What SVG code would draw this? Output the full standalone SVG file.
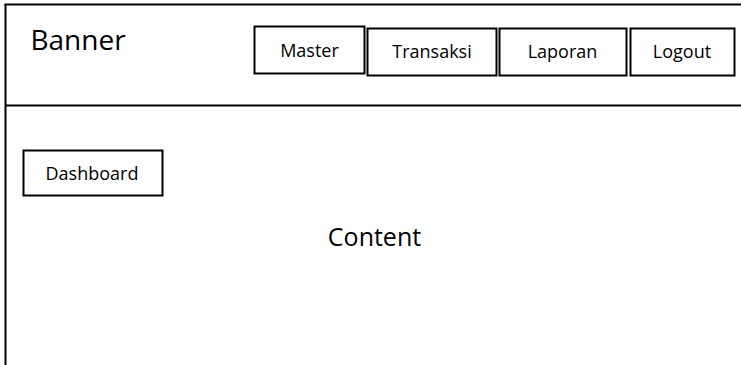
<svg xmlns="http://www.w3.org/2000/svg" width="741" height="365" viewBox="0 0 741 365">
<style>
.box{fill:#fff;stroke:#000;stroke-width:2}
.ln{stroke:#000;stroke-width:2;fill:none}
text{font-family:"Open Sans","Noto Sans",sans-serif;fill:#000;text-anchor:middle}
.m{font-size:18px}
</style>
<rect width="741" height="365" fill="#fff"/>
<g id="frame">
<line class="ln" x1="4.5" y1="4.5" x2="741" y2="4.5"/>
<line class="ln" x1="5.5" y1="4" x2="5.5" y2="365"/>
<line class="ln" x1="5" y1="105.5" x2="741" y2="105.5"/>
</g>
<g id="banner"><text x="78" y="50" font-size="28">Banner</text></g>
<g id="master"><rect class="box" x="254.5" y="26.5" width="110" height="47"/><text class="m" x="309.5" y="57">Master</text></g>
<g id="transaksi"><rect class="box" x="367.5" y="28.5" width="129" height="47"/><text class="m" x="432" y="58">Transaksi</text></g>
<g id="laporan"><rect class="box" x="499.5" y="28.5" width="127" height="47"/><text class="m" x="562.5" y="58">Laporan</text></g>
<g id="logout"><rect class="box" x="630.5" y="28.5" width="104" height="47"/><text class="m" x="682" y="58">Logout</text></g>
<g id="dashboard"><rect class="box" x="23.5" y="150.5" width="139" height="45"/><text class="m" x="92" y="180">Dashboard</text></g>
<g id="content"><text x="374.5" y="246" font-size="25">Content</text></g>
<g id="connectors"/>
</svg>
